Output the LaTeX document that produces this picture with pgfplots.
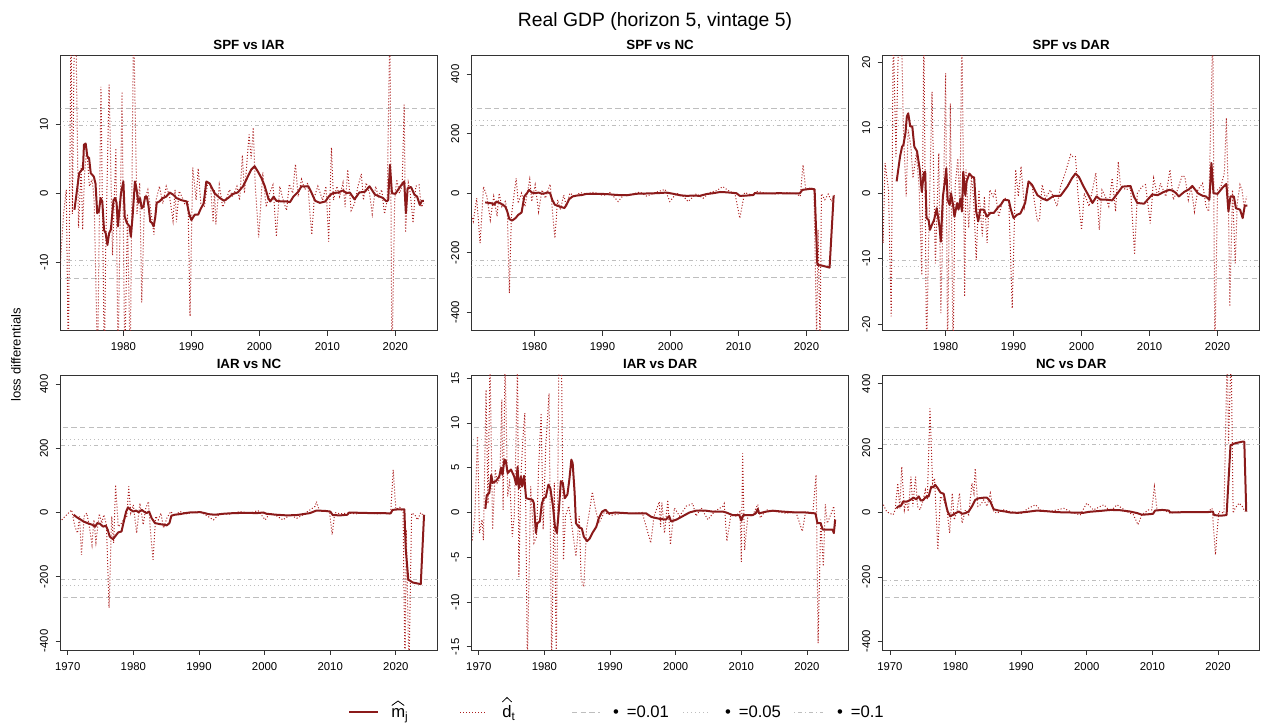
\documentclass[border=0pt]{standalone}
\usepackage{fontspec}
\setmainfont{Liberation Sans}
\usepackage{pgfplots}
\pgfplotsset{compat=1.18}

\definecolor{mline}{RGB}{139,26,26}
\definecolor{dline}{RGB}{172,30,30}
\definecolor{refgray}{RGB}{190,190,190}

\pgfplotsset{
  panel/.style={
    scale only axis, width=282.75pt, height=206.25pt,
    axis line style={draw=black!80, line width=0.7pt},
    every tick/.style={draw=black!80, line width=0.6pt},
    tick align=outside, major tick length=3.75pt,
    xtick pos=bottom, ytick pos=left,
    xtick={1970,1980,...,2020},
    tick label style={font=\fontsize{8.5}{10}\selectfont},
    /pgf/number format/assume math mode=true,
    /pgf/number format/1000 sep={},
    xticklabel style={anchor=north, inner sep=0pt},
    yticklabel style={rotate=90, anchor=base, inner sep=0pt},
    xticklabel shift=5.25pt, yticklabel shift=5.65pt,
    title style={font=\bfseries\fontsize{10}{12}\selectfont, at={(0.5,1)}, anchor=base, yshift=-1.5pt, inner sep=0pt},
  },
  toprow/.style={panel, xmin=1970.75, xmax=2026.2},
  botrow/.style={panel, xmin=1968.9, xmax=2026.35},
  mj/.style={mline, line width=1.5pt, line join=round},
  dt/.style={dline, line width=0.75pt, dash pattern=on 0.75pt off 1.5pt},
  ref01/.style={refgray, line width=0.75pt, dash pattern=on 4pt off 2.5pt},
  ref05/.style={refgray, line width=0.75pt, dash pattern=on 0.75pt off 2.25pt},
  ref10/.style={refgray, line width=0.75pt, dash pattern=on 0.75pt off 2.25pt on 3pt off 2.25pt},
}

% critical bands: #1 at 0.01, #2 at 0.05, #3 at 0.1
\newcommand{\bands}[3]{%
  \addplot[ref01] coordinates {(1960,#1) (2030,#1)};
  \addplot[ref01] coordinates {(1960,-#1) (2030,-#1)};
  \addplot[ref05] coordinates {(1960,#2) (2030,#2)};
  \addplot[ref05] coordinates {(1960,-#2) (2030,-#2)};
  \addplot[ref10] coordinates {(1960,#3) (2030,#3)};
  \addplot[ref10] coordinates {(1960,-#3) (2030,-#3)};
}

\begin{document}
\begin{tikzpicture}[x=0.75pt,y=0.75pt]
\useasboundingbox (0,0) rectangle (1268,727);

% ---------------- SPF vs IAR
\begin{axis}[toprow, at={(45.375pt,503.475pt)}, anchor=north west,
  ymin=-19.9, ymax=19.9, ytick={-10,0,10}, title={SPF vs IAR}]
\bands{12.3}{10.4}{9.8}
\addplot[dt] coordinates {(1969.0,-12)(1970.5,-18)(1970.8,-9)(1971.2,-3)(1971.6,0.5)(1971.9,-25)(1972.3,25)(1972.5,-3)(1972.8,25)(1973.0,25)(1973.4,-5.0)(1973.8,4)(1974.0,-5.3)(1974.3,3)(1974.6,6.5)(1975.0,1)(1975.4,2)(1975.7,-1)(1976.2,-25)(1976.7,15.4)(1977.2,-25)(1977.4,-8)(1977.9,15.7)(1978.4,-9)(1978.9,6.5)(1979.2,-25)(1979.8,14.7)(1980.2,-25)(1980.6,-3)(1981.0,-25)(1981.5,25)(1982.0,-3)(1982.4,1.5)(1982.7,-15.8)(1983.1,-1)(1983.6,0.5)(1984.1,-3)(1984.5,-6)(1984.8,-1)(1985.3,1)(1985.8,-1.5)(1986.3,1)(1986.8,-0.5)(1987.3,-4)(1987.6,0.5)(1987.8,-4.2)(1988.2,0.3)(1988.6,-0.5)(1989.0,-1.5)(1989.5,-1)(1989.8,-17.8)(1990.2,3.7)(1990.7,-1)(1991.0,3.6)(1991.4,-1.5)(1991.9,-2)(1992.4,1.5)(1992.8,1.2)(1993.2,-4.2)(1993.4,0.5)(1993.6,-4.5)(1994.1,1.2)(1994.6,-2)(1995.1,-1)(1995.6,0.5)(1996.1,-0.5)(1996.7,1)(1997.1,-1)(1997.5,5.5)(1997.8,0)(1998.5,8.5)(1998.8,5)(1999.1,9.5)(1999.4,1)(1999.9,-6.4)(2000.5,3)(2001.0,-2)(2001.5,0)(2002.0,1.2)(2002.5,-6.3)(2003.0,1)(2003.5,-1)(2004.0,-2.5)(2004.4,1.3)(2004.9,0)(2005.3,4.2)(2005.7,-0.5)(2006.2,2)(2006.7,0.5)(2007.1,1.5)(2007.7,-6)(2008.1,-0.5)(2008.6,1)(2009.3,-1)(2009.8,1)(2010.2,-7)(2010.6,6.6)(2010.9,-1)(2011.4,1)(2011.8,-0.5)(2012.3,1.5)(2012.6,-2)(2013.0,3.4)(2013.5,-2.5)(2014.0,-1.5)(2014.5,1)(2015.0,2.8)(2015.3,-1)(2015.7,1.5)(2016.2,0)(2016.6,-3)(2017.1,1)(2017.5,-0.5)(2018.0,0.5)(2018.4,-3)(2018.8,-1)(2019.2,25)(2019.5,-25)(2019.9,-1)(2020.2,2)(2020.6,0)(2021.0,1)(2021.3,12.8)(2021.5,-5.7)(2021.9,1.5)(2022.2,0)(2022.6,-4.3)(2023.0,1)(2023.5,1.2)(2023.8,-2)(2024.2,-1.5)};
\addplot[mj] coordinates {(1972.8,-2.4)(1973.5,2.9)(1973.9,3.4)(1974.05,3.4)(1974.2,7.0)(1974.45,7.2)(1974.7,5.3)(1974.95,5.1)(1975.2,2.9)(1975.65,2.4)(1975.9,1.4)(1976.15,-2.9)(1976.4,-2.6)(1976.65,-0.7)(1976.9,-1.2)(1977.15,-5.3)(1977.4,-5.8)(1977.65,-7.5)(1977.9,-5.8)(1978.15,-5.3)(1978.55,-1.0)(1978.8,-0.7)(1979.0,-1.4)(1979.2,-4.8)(1979.4,-2.6)(1979.65,0.0)(1980.0,1.7)(1980.2,-3.4)(1980.5,-4.3)(1980.9,-4.8)(1981.1,-6.3)(1981.35,-3.4)(1981.7,1.7)(1981.95,0.5)(1982.2,-1.4)(1982.45,-0.7)(1982.7,-2.2)(1982.95,-1.9)(1983.2,-0.5)(1983.45,-0.5)(1983.7,-1.9)(1983.95,-4.1)(1984.2,-4.3)(1984.45,-4.8)(1984.7,-3.4)(1984.9,-1.4)(1985.3,-1.2)(1985.8,-0.7)(1986.3,-0.5)(1986.8,0.1)(1987.3,-0.2)(1987.8,-0.7)(1988.5,-1.0)(1989.3,-1.2)(1989.65,-2.9)(1990.0,-3.9)(1990.5,-3.1)(1991.0,-3.1)(1991.4,-2.2)(1991.8,-1.5)(1992.2,1.7)(1992.7,1.4)(1993.4,0.0)(1994.2,-0.7)(1994.8,-1.1)(1995.4,-0.7)(1996.1,-0.1)(1996.8,0.1)(1997.6,1.0)(1998.3,2.4)(1998.8,3.4)(1999.3,3.9)(1999.8,3.1)(2000.3,2.2)(2000.8,1.0)(2001.3,-0.7)(2001.6,-1.2)(2002.1,-0.5)(2002.5,-1.1)(2003.3,-1.2)(2004.0,-1.2)(2004.5,-1.3)(2005.0,-0.5)(2005.7,0.2)(2006.2,1.0)(2007.2,1.0)(2007.7,0.0)(2008.2,-1.1)(2008.9,-1.4)(2009.7,-1.2)(2010.2,-0.5)(2010.5,-0.2)(2010.8,0.0)(2011.6,0.1)(2012.3,0.4)(2012.8,0.0)(2013.3,0.1)(2014.0,-0.9)(2014.7,0.1)(2015.5,0.2)(2016.2,1.0)(2017.0,-0.2)(2017.7,-0.5)(2018.2,-0.7)(2018.7,-1.2)(2018.95,-1.0)(2019.2,4.1)(2019.5,0.0)(2020.0,-0.1)(2020.4,0.5)(2020.9,1.2)(2021.3,1.7)(2021.55,-2.9)(2021.8,0.7)(2022.3,0.9)(2022.8,-0.2)(2023.2,-0.5)(2023.6,-1.7)(2023.9,-1.1)(2024.2,-1.1)};
\end{axis}

% ---------------- SPF vs NC
\begin{axis}[toprow, at={(353.7pt,503.475pt)}, anchor=north west,
  ymin=-462, ymax=462, ytick={-400,-200,0,200,400}, title={SPF vs NC}]
\bands{284.5}{244}{226}
\addplot[dt] coordinates {(1969.0,-30)(1970.5,-60)(1971.0,-95)(1971.5,-17)(1972.0,-168)(1972.5,22)(1973.0,-11)(1973.5,-90)(1974.0,-11)(1974.5,-78)(1974.8,0)(1975.2,-45)(1975.7,-28)(1976.0,-56)(1976.3,-336)(1976.6,-78)(1976.9,-22)(1977.3,50)(1977.6,-34)(1978.1,0)(1978.6,-45)(1979.3,47)(1979.6,-28)(1980.1,28)(1980.6,-62)(1981.1,11)(1981.6,-17)(1982.3,30)(1982.7,-78)(1983.0,-151)(1983.4,-22)(1983.8,-56)(1984.3,-6)(1984.7,-45)(1985.2,0)(1986.0,-11)(1986.7,2)(1987.7,-3)(1988.5,3)(1989.2,0)(1990.1,-8)(1991.1,2)(1992.3,-28)(1993.1,-6)(1994.5,-3)(1995.5,4)(1996.5,-10)(1998.0,4)(1999.2,13)(1999.9,-28)(2000.9,0)(2001.9,-11)(2002.6,-28)(2003.8,-2)(2004.8,-17)(2005.8,2)(2006.8,9)(2007.7,22)(2008.5,9)(2009.5,-3)(2010.2,-84)(2010.9,2)(2011.9,-6)(2012.7,6)(2014.1,0)(2015.6,-3)(2017.1,2)(2018.5,-2)(2019.1,-11)(2019.5,95)(2019.9,11)(2020.5,17)(2021.1,11)(2021.5,-500)(2021.7,-123)(2022.0,-500)(2022.2,-2)(2022.7,-22)(2023.2,-3)(2023.7,-28)(2024.1,-6)};
\addplot[mj] coordinates {(1972.75,-31)(1973.7,-34)(1974.1,-39)(1974.4,-28)(1974.7,-31)(1975.2,-37)(1975.7,-45)(1976.0,-62)(1976.3,-87)(1976.7,-92)(1977.2,-84)(1977.6,-73)(1978.1,-65)(1978.5,-11)(1978.9,0)(1979.2,11)(1979.6,2)(1980.1,0)(1980.6,2)(1981.1,-2)(1981.6,0)(1981.9,3)(1982.3,0)(1982.6,-22)(1983.0,-39)(1983.5,-43)(1984.0,-47)(1984.4,-50)(1984.7,-39)(1985.1,-20)(1985.6,-11)(1986.2,-8)(1987.0,-6)(1987.7,-2)(1989.2,-2)(1990.6,-3)(1992.1,-6)(1993.6,-7)(1995.0,-2)(1996.5,-1)(1998.0,0)(1999.4,2)(2000.4,-2)(2001.4,-7)(2002.4,-9)(2003.4,-8)(2004.3,-9)(2005.3,-3)(2006.3,0)(2007.3,4)(2008.2,3)(2009.2,1)(2009.7,0)(2010.2,-9)(2011.2,-8)(2012.2,-6)(2012.4,0)(2013.6,-1)(2016.1,0)(2017.6,-1)(2019.0,-1)(2019.4,11)(2020.0,13)(2020.7,15)(2021.2,13)(2021.6,-241)(2022.4,-244)(2023.4,-250)(2024.0,-8)};
\end{axis}

% ---------------- SPF vs DAR
\begin{axis}[toprow, at={(662.025pt,503.475pt)}, anchor=north west,
  ymin=-21, ymax=21, ytick={-20,-10,0,10,20}, title={SPF vs DAR}]
\bands{13.0}{11.15}{10.3}
\addplot[dt] coordinates {(1969.0,-3)(1970.5,2)(1970.8,-7.6)(1971.1,4.6)(1971.6,0.5)(1972.0,-18.8)(1972.3,25)(1972.7,5.6)(1973.1,25)(1973.5,25)(1973.8,9.7)(1974.2,-0.5)(1974.5,9.7)(1974.9,7.1)(1975.2,2.3)(1975.7,6.1)(1976.1,1.0)(1976.5,-12.5)(1976.8,25)(1977.2,-25)(1977.5,-7.6)(1978.0,15.5)(1978.5,-10.7)(1979.0,6.1)(1979.3,-18.3)(1979.7,0)(1980.0,18.3)(1980.3,-25)(1980.7,13.7)(1981.1,-25)(1981.4,1.0)(1981.8,5.3)(1982.1,-2.5)(1982.4,25)(1982.8,-15.8)(1983.0,3.6)(1983.4,-5.3)(1983.8,2.5)(1984.1,-0.5)(1984.5,-10.2)(1984.9,0.5)(1985.4,-6.6)(1985.7,-0.5)(1986.1,-7.6)(1986.5,0.5)(1987.0,-0.5)(1987.3,0.3)(1987.8,-3.6)(1988.3,-1.5)(1988.8,-0.8)(1989.3,-1.3)(1989.8,-17.6)(1990.3,3.6)(1990.7,-0.5)(1991.1,4.1)(1991.6,-2.0)(1992.0,1.0)(1992.7,1.3)(1993.5,-4.3)(1993.8,-4.1)(1994.2,1.3)(1994.7,-0.8)(1995.4,0.5)(1996.4,-2.0)(1996.9,1.0)(1997.6,3.1)(1998.4,5.9)(1998.7,5.6)(1999.1,5.6)(1999.5,-0.5)(2000.0,-5.6)(2000.4,0)(2001.1,-2.0)(2001.6,0.5)(2002.1,3.1)(2002.6,-5.6)(2003.0,0.5)(2003.5,-0.5)(2004.0,-2.0)(2004.5,2.3)(2005.0,-2.8)(2005.4,4.8)(2005.7,1.3)(2006.5,0.5)(2007.2,0.8)(2007.8,-9.4)(2008.2,0)(2008.9,1.0)(2009.4,1.3)(2010.1,-4.6)(2010.6,2.3)(2011.2,-0.5)(2011.6,1.5)(2012.4,-0.5)(2013.0,3.6)(2013.5,-1.0)(2014.1,0.5)(2014.8,2.7)(2015.2,2.5)(2015.7,-1.0)(2016.1,1.0)(2016.6,-2.8)(2017.1,0.5)(2017.8,1.5)(2018.3,-2.0)(2018.7,-2.8)(2019.3,25)(2019.6,-25)(2020.0,0.5)(2020.5,1.0)(2021.0,3.1)(2021.3,11.5)(2021.6,-1.5)(2021.8,-17.3)(2022.2,0.5)(2022.6,-10.7)(2022.9,-1.5)(2023.3,1.3)(2023.6,0.5)(2023.9,-2.0)(2024.3,-0.5)};
\addplot[mj] coordinates {(1972.8,1.8)(1973.3,5.6)(1973.6,7.1)(1973.8,7.4)(1974.1,9.2)(1974.3,11.7)(1974.5,12.2)(1974.8,10.2)(1975.1,10.2)(1975.4,7.1)(1975.8,6.4)(1976.2,3.6)(1976.5,0.2)(1976.8,3.1)(1977.0,3.3)(1977.2,-3.8)(1977.5,-4.1)(1977.7,-5.6)(1978.0,-4.8)(1978.3,-4.1)(1978.7,-2.3)(1979.1,-5.1)(1979.3,-7.4)(1979.6,-0.5)(1979.9,1.8)(1980.1,3.8)(1980.3,-1.0)(1980.6,-1.8)(1980.8,0)(1981.1,-1.8)(1981.3,-3.6)(1981.7,-1.5)(1981.9,-2.5)(1982.2,-0.8)(1982.4,-2.8)(1982.6,3.3)(1982.9,-0.3)(1983.1,1.8)(1983.5,3.0)(1983.9,2.5)(1984.2,2.4)(1984.5,-2.8)(1984.8,-4.3)(1985.1,-2.5)(1985.6,-2.5)(1986.1,-3.6)(1986.6,-3.0)(1987.1,-3.0)(1987.6,-2.3)(1988.1,-1.8)(1988.6,-1.0)(1989.3,-1.1)(1989.6,-2.5)(1990.0,-3.8)(1990.5,-3.3)(1991.0,-3.1)(1991.7,-1.5)(1992.2,1.8)(1992.7,1.3)(1993.5,-0.3)(1994.2,-0.8)(1994.9,-1.1)(1995.9,-0.4)(1996.9,-0.4)(1997.9,1.0)(1998.6,2.3)(1999.1,3.0)(1999.6,2.5)(2000.3,1.0)(2001.1,-0.5)(2001.6,-1.5)(2002.2,-0.5)(2002.8,-1.0)(2003.8,-1.0)(2004.5,-1.1)(2005.3,0)(2006.0,1.0)(2007.2,1.1)(2007.7,-0.5)(2008.2,-1.5)(2009.2,-1.6)(2009.7,-1.0)(2010.4,-0.2)(2011.2,-0.3)(2012.1,0.2)(2012.9,0.5)(2013.4,0.4)(2013.9,0)(2014.3,-0.5)(2015.1,0.2)(2015.8,0.6)(2016.3,1.1)(2017.1,0)(2017.8,-0.4)(2018.3,-0.5)(2018.8,-1.0)(2019.1,4.6)(2019.4,0)(2020.0,-0.1)(2020.7,0.8)(2021.3,1.4)(2021.6,-2.8)(2021.9,-0.5)(2022.4,-0.5)(2022.7,-2.3)(2023.0,-2.4)(2023.3,-2.5)(2023.7,-3.8)(2024.0,-1.9)(2024.4,-1.9)};
\end{axis}

% ---------------- IAR vs NC
\begin{axis}[botrow, at={(45.375pt,264pt)}, anchor=north west,
  ymin=-428, ymax=428, ytick={-400,-200,0,200,400}, title={IAR vs NC}]
\bands{265}{227}{210}
\addplot[dt] coordinates {(1969.1,-23)(1969.6,-12)(1970.1,-2)(1970.6,8)(1971.1,-44)(1971.5,-64)(1971.8,-12)(1972.1,-132)(1972.5,-12)(1972.9,-2)(1973.3,-44)(1973.7,-101)(1974.0,-23)(1974.3,-93)(1974.8,-4)(1975.2,-33)(1975.5,-7)(1975.9,-38)(1976.3,-297)(1976.7,-12)(1977.0,-95)(1977.3,86)(1977.7,-44)(1978.2,-33)(1978.6,-20)(1979.0,-12)(1979.3,81)(1979.6,-2)(1980.0,24)(1980.5,-64)(1981.0,29)(1981.5,-38)(1981.9,13)(1982.3,34)(1982.6,-54)(1983.0,-147)(1983.4,-12)(1983.8,-23)(1984.2,-2)(1984.6,-49)(1985.1,-18)(1985.7,3)(1986.3,-10)(1987.1,3)(1988.1,-4)(1989.1,0)(1990.2,3)(1991.2,-10)(1992.2,-23)(1993.2,-4)(1994.7,-5)(1996.2,3)(1997.8,-2)(1999.0,6)(2000.1,-23)(2000.8,-2)(2001.8,-10)(2002.8,-23)(2003.9,-7)(2004.9,-18)(2005.9,-7)(2006.9,8)(2007.7,19)(2007.9,34)(2008.4,3)(2009.4,6)(2009.9,0)(2010.3,-69)(2010.7,0)(2011.5,-4)(2012.5,-2)(2014.0,-4)(2015.5,0)(2017.1,-4)(2018.6,-2)(2019.2,-5)(2019.6,133)(2020.0,10)(2020.6,16)(2021.1,3)(2021.4,-500)(2021.6,-54)(2022.0,-500)(2022.4,-2)(2022.9,-7)(2023.3,-23)(2023.8,0)(2024.3,-12)};
\addplot[mj] coordinates {(1970.9,-7)(1971.4,-15)(1971.9,-21)(1972.4,-28)(1973.0,-33)(1973.7,-38)(1974.2,-44)(1974.5,-33)(1974.9,-35)(1975.4,-44)(1975.8,-41)(1976.1,-54)(1976.4,-75)(1976.9,-83)(1977.2,-75)(1977.7,-62)(1978.2,-59)(1978.6,-23)(1978.9,3)(1979.2,16)(1979.6,8)(1980.0,3)(1980.4,6)(1980.8,1)(1981.3,8)(1981.6,3)(1982.0,-2)(1982.4,3)(1982.8,-18)(1983.3,-33)(1984.0,-36)(1984.6,-38)(1985.1,-40)(1985.5,-33)(1985.8,-10)(1986.3,-7)(1987.1,-5)(1987.9,-2)(1988.6,0)(1990.2,1)(1990.9,-2)(1991.4,-5)(1992.4,-7)(1993.7,-4)(1995.2,-2)(1997.3,-1)(1998.8,-2)(1999.8,0)(2000.3,-4)(2001.8,-7)(2003.4,-9)(2004.9,-8)(2005.9,-5)(2006.9,-2)(2007.9,6)(2009.2,5)(2010.0,3)(2010.4,-8)(2011.5,-9)(2012.6,-7)(2012.9,0)(2014.5,-1)(2016.5,-2)(2018.1,-2)(2019.2,-3)(2019.5,8)(2020.4,10)(2021.3,10)(2021.5,-111)(2021.9,-209)(2022.6,-218)(2023.8,-223)(2024.3,-7)};
\end{axis}

% ---------------- IAR vs DAR
\begin{axis}[botrow, at={(353.7pt,264pt)}, anchor=north west,
  ymin=-15.35, ymax=15.35, ytick={-15,-10,...,15}, title={IAR vs DAR}]
\bands{9.5}{8.12}{7.53}
\addplot[dt] coordinates {(1969.0,-3.1)(1969.4,-0.4)(1969.8,8.5)(1970.1,-2.3)(1970.5,-0.8)(1970.7,-3.1)(1971.1,13.7)(1971.4,1.0)(1971.7,17)(1972.1,-1.9)(1972.5,4.8)(1972.8,3.3)(1973.2,3.7)(1973.5,12.6)(1973.7,0.3)(1974.0,17)(1974.4,1.8)(1974.7,3.7)(1975.1,-2.7)(1975.4,-0.4)(1975.6,5.9)(1975.9,17)(1976.1,-7.2)(1976.4,3.7)(1976.7,8.1)(1977.0,11.1)(1977.4,-17)(1977.9,2.9)(1978.4,-3.4)(1978.8,-2.7)(1979.1,4.8)(1979.5,11.1)(1979.8,-1.9)(1980.2,7.4)(1980.7,13.3)(1981.1,-17)(1981.5,3.3)(1981.8,-17)(1982.2,17)(1982.6,17)(1982.9,-5.3)(1983.2,-0.4)(1983.7,0.7)(1984.2,-1.6)(1984.8,-4.9)(1985.3,-0.4)(1985.6,-7.5)(1986.0,-8.3)(1986.4,-1.9)(1986.9,0.3)(1987.3,2.3)(1987.8,0.3)(1988.3,-1.2)(1989.1,0)(1990.3,-0.3)(1991.9,-0.1)(1993.4,-0.1)(1994.9,0)(1996.2,-3.4)(1996.7,-0.4)(1997.5,1.2)(1997.7,-1.6)(1997.9,1.1)(1998.3,-2.3)(1998.8,1.4)(1999.2,-3.6)(1999.8,0.5)(2000.6,-0.4)(2001.6,0.7)(2002.6,1.0)(2003.1,-0.4)(2003.9,0.5)(2004.9,-0.8)(2005.9,0.1)(2007.2,0.7)(2007.4,1.0)(2007.8,-3.2)(2008.4,-0.3)(2009.2,-0.4)(2009.8,0.1)(2010.0,-5.5)(2010.2,6.6)(2010.5,-4.2)(2011.0,-0.3)(2011.7,-0.4)(2012.5,0.9)(2012.9,-0.6)(2013.8,0.3)(2015.3,0.1)(2016.8,-0.1)(2018.3,0.1)(2019.3,-2.1)(2019.8,0.1)(2020.9,-0.1)(2021.4,4.2)(2021.7,-14.6)(2022.1,-0.8)(2022.5,-6.0)(2022.8,0.9)(2023.1,-1.2)(2023.7,-0.1)(2024.1,0.7)(2024.3,-1.6)};
\addplot[mj] coordinates {(1971.0,0.4)(1971.2,1.9)(1971.6,2.2)(1971.9,4.2)(1972.1,3.3)(1972.6,3.5)(1973.1,4.0)(1973.4,5.0)(1973.6,4.2)(1973.9,5.9)(1974.1,5.8)(1974.4,4.4)(1974.9,4.8)(1975.4,4.0)(1975.7,3.1)(1975.9,5.1)(1976.1,2.7)(1976.4,4.0)(1976.6,2.9)(1976.9,4.1)(1977.2,1.6)(1977.7,1.5)(1978.2,1.4)(1978.4,1.0)(1978.7,-2.3)(1978.9,-1.2)(1979.3,-1.0)(1979.6,1.0)(1979.9,1.6)(1980.2,1.7)(1980.6,3.1)(1980.9,2.7)(1981.3,0.7)(1981.6,-1.6)(1981.9,-2.3)(1982.2,0.3)(1982.5,3.5)(1982.8,3.3)(1983.1,1.6)(1983.5,2.0)(1983.8,3.7)(1984.1,5.9)(1984.3,5.5)(1984.6,2.2)(1984.8,-1.2)(1985.2,-1.6)(1985.7,-1.8)(1986.0,-2.7)(1986.5,-3.2)(1986.9,-2.9)(1987.3,-2.3)(1987.9,-1.6)(1988.3,-0.6)(1988.8,0.1)(1989.3,0.3)(1989.8,-0.1)(1990.8,0)(1993.0,-0.1)(1995.5,-0.1)(1996.3,-0.5)(1997.5,-0.7)(1998.5,-0.8)(1999.0,-0.4)(1999.3,-1.0)(2000.1,-0.8)(2001.1,-0.4)(2002.1,0)(2003.1,0.2)(2004.6,0.2)(2005.6,0.1)(2007.2,0.1)(2007.7,0)(2008.7,-0.3)(2009.7,-0.3)(2010.0,-0.9)(2010.3,-0.3)(2011.7,-0.3)(2012.2,-0.1)(2012.5,0.4)(2012.7,-0.1)(2013.8,0.1)(2014.8,0.2)(2016.3,0.1)(2018.3,0)(2019.8,0)(2021.3,-0.1)(2021.6,-1.2)(2022.1,-1.2)(2022.4,-1.9)(2023.4,-1.9)(2023.9,-1.9)(2024.1,-2.3)(2024.3,-0.8)};
\end{axis}

% ---------------- NC vs DAR
\begin{axis}[botrow, at={(662.025pt,264pt)}, anchor=north west,
  ymin=-427, ymax=427, ytick={-400,-200,0,200,400}, title={NC vs DAR}]
\bands{265}{227}{210}
\addplot[dt] coordinates {(1969.0,24)(1969.5,3)(1969.9,-2)(1970.5,-7)(1970.8,8)(1971.2,91)(1971.5,13)(1971.8,142)(1972.2,8)(1972.5,39)(1972.8,3)(1973.2,111)(1973.5,19)(1973.9,111)(1974.2,19)(1974.6,8)(1975.0,34)(1975.4,70)(1975.7,39)(1976.1,323)(1976.5,91)(1976.8,106)(1977.3,-116)(1977.7,50)(1978.2,39)(1978.7,8)(1979.1,-64)(1979.5,60)(1979.8,-23)(1980.2,3)(1980.6,60)(1981.0,-33)(1981.5,8)(1982.0,-7)(1982.5,91)(1982.8,60)(1983.0,137)(1983.4,19)(1983.8,24)(1984.3,39)(1984.8,19)(1985.3,60)(1985.8,3)(1986.3,-2)(1987.3,8)(1988.3,3)(1989.9,-4)(1991.1,13)(1992.2,24)(1992.9,8)(1994.4,3)(1996.5,13)(1998.0,-2)(1999.0,-7)(2000.0,29)(2001.0,8)(2002.6,24)(2003.6,3)(2004.6,24)(2006.1,3)(2007.1,-7)(2007.8,-38)(2008.4,-7)(2009.4,8)(2009.9,8)(2010.3,80)(2010.7,8)(2011.7,8)(2012.7,-2)(2014.3,3)(2016.3,3)(2018.3,0)(2019.1,13)(2019.6,-131)(2020.1,3)(2020.9,-2)(2021.4,500)(2021.6,215)(2022.0,500)(2022.3,-2)(2022.6,13)(2023.2,29)(2023.7,19)(2024.1,3)};
\addplot[mj] coordinates {(1971.0,13)(1971.3,19)(1971.7,21)(1972.0,34)(1972.6,34)(1973.1,39)(1973.6,46)(1974.0,41)(1974.4,50)(1974.7,37)(1975.1,39)(1975.4,47)(1975.9,50)(1976.3,80)(1976.6,78)(1976.9,86)(1977.3,75)(1977.7,62)(1978.2,58)(1978.6,19)(1978.8,3)(1979.2,-12)(1979.6,-7)(1980.0,-2)(1980.5,3)(1981.0,-4)(1981.5,-2)(1982.0,3)(1982.5,19)(1983.0,39)(1983.5,44)(1984.3,46)(1984.8,46)(1985.3,34)(1985.8,10)(1986.6,6)(1987.6,3)(1988.3,0)(1989.4,-1)(1990.9,2)(1992.4,6)(1993.9,4)(1995.5,1)(1997.5,0)(1999.5,-1)(2000.3,2)(2002.1,5)(2003.6,8)(2005.1,7)(2006.6,3)(2007.7,-2)(2008.4,-7)(2009.7,-5)(2010.1,-4)(2010.4,6)(2011.5,8)(2012.5,6)(2012.7,0)(2014.8,1)(2016.8,1)(2018.3,1)(2019.2,3)(2019.4,-8)(2020.4,-10)(2021.3,-8)(2021.9,209)(2022.6,215)(2023.7,220)(2024.0,220)(2024.3,3)};
\end{axis}

% overall title and shared y label
\node[anchor=base, font=\fontsize{14.5}{16}\selectfont] at (655,700) {Real GDP (horizon 5, vintage 5)};
\node[anchor=base, rotate=90, font=\fontsize{9.8}{11}\selectfont] at (20.5,372) {loss differentials};

% legend: keys, labels with drawn hats
\begin{scope}[font=\fontsize{12.5}{14}\selectfont]
  \draw[mline, line width=1.5pt] (349,14.7) -- (378,14.7);
  \node[anchor=base west, inner sep=0pt] at (391,9.3) {m\textsubscript{j}};
  \draw[line width=0.6pt, line join=miter] (391.8,21.5) -- (398,26) -- (404.2,21.5);
  \draw[dline, line width=0.75pt, dash pattern=on 0.75pt off 1.5pt] (460,14.7) -- (487,14.7);
  \node[anchor=base west, inner sep=0pt] at (502,9.3) {d\textsubscript{t}};
  \draw[line width=0.6pt, line join=miter] (502.3,25) -- (507,29.5) -- (511.7,25);
  \draw[refgray, line width=0.75pt, dash pattern=on 4pt off 2.5pt] (572,14.7) -- (600,14.7);
  \node[anchor=base, inner sep=0pt] at (616,9.3) {\textbullet};
  \node[anchor=base west, inner sep=0pt] at (626.5,9.3) {=0.01};
  \draw[refgray, line width=0.75pt, dash pattern=on 0.75pt off 2.25pt] (683,14.7) -- (710,14.7);
  \node[anchor=base, inner sep=0pt] at (728,9.3) {\textbullet};
  \node[anchor=base west, inner sep=0pt] at (738.5,9.3) {=0.05};
  \draw[refgray, line width=0.75pt, dash pattern=on 0.75pt off 2.25pt on 3pt off 2.25pt] (794,14.7) -- (823,14.7);
  \node[anchor=base, inner sep=0pt] at (840,9.3) {\textbullet};
  \node[anchor=base west, inner sep=0pt] at (850.5,9.3) {=0.1};
\end{scope}
\end{tikzpicture}
\end{document}
